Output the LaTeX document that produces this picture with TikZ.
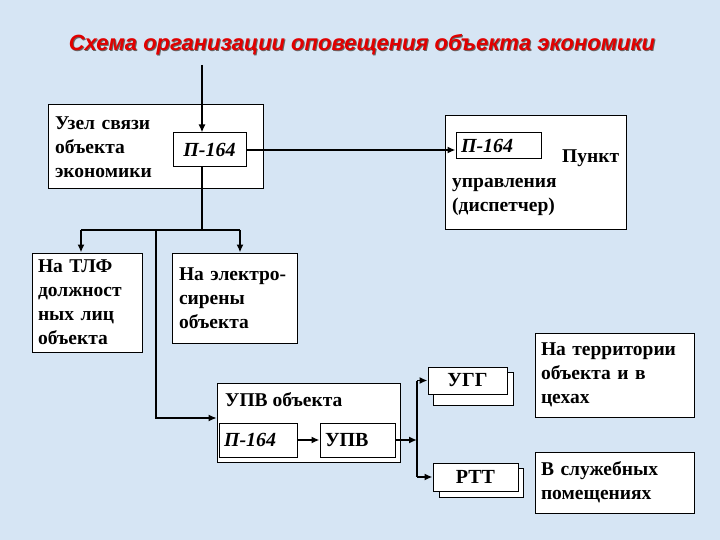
\documentclass[tikz,border=0pt]{standalone}
\usepackage{fontspec}
\setmainfont{Liberation Serif}
\newfontfamily\titlefont{Liberation Sans}
\usetikzlibrary{arrows.meta}
\definecolor{bgblue}{RGB}{214,229,244}
\definecolor{titlered}{RGB}{225,0,0}
\tikzset{
  box/.style={draw=black, fill=white, line width=1pt, inner ysep=0pt, inner xsep=7pt, align=left,
    font=\fontsize{19.5}{24}\selectfont\bfseries},
  pbox/.style={draw=black, fill=white, line width=1pt, inner sep=0pt,
    font=\fontsize{20}{22}\selectfont\bfseries\itshape},
  conn/.style={line width=1.6pt, draw=black},
  thin/.style={line width=1.1pt, draw=black},
  arr/.style={-{Latex[length=8pt,width=7pt]}},
  lbl/.style={inner sep=0pt, font=\fontsize{19.5}{24}\selectfont\bfseries, align=left},
}
\begin{document}
\begin{tikzpicture}[x=1pt,y=-1pt]
\fill[bgblue] (0,0) rectangle (720,540);
\useasboundingbox (0,0) rectangle (720,540);
% title
\node (titleshadow) at (363,46) {\titlefont\fontsize{22}{24}\selectfont\bfseries\itshape\color{black!60}Схема организации оповещения объекта экономики};
\node (title) at (362,45) {\titlefont\fontsize{22}{24}\selectfont\bfseries\itshape\color{titlered}Схема организации оповещения объекта экономики};
% boxes
\node[box, minimum width=215pt, minimum height=84pt, text width=201pt] (uzel) at (155.5,147) {Узел связи\\объекта\\экономики};
\node[pbox, minimum width=73pt, minimum height=34pt] (p1) at (209.5,150) {П-164};
\node[box, minimum width=181pt, minimum height=114pt] (punkt) at (535.5,173) {};
\node[pbox, minimum width=85pt, minimum height=26pt, align=left, text width=75pt, inner xsep=5pt] (p2) at (498.5,146) {П-164};
\node[lbl, anchor=west] (punkttxt) at (562,158) {Пункт};
\node[lbl, anchor=north west] (upravl) at (452,178) {управления\\(диспетчер)};
\node[box, minimum width=110pt, minimum height=99pt, text width=98pt, inner xsep=6pt] (tlf) at (87,302.5) {На ТЛФ\\должност\\ных лиц\\объекта};
\node[box, minimum width=125pt, minimum height=90pt, text width=111pt] (siren) at (234.5,298) {На электро-\\сирены\\объекта};
\node[box, minimum width=183pt, minimum height=79pt] (upvobj) at (308.5,422.5) {};
\node[lbl, anchor=west] (upvobjtxt) at (225,400) {УПВ объекта};
\node[pbox, minimum width=78pt, minimum height=34pt, align=left, text width=68pt, inner xsep=5pt] (p3) at (258,440) {П-164};
\node[box, minimum width=75pt, minimum height=34pt, text width=65pt, inner xsep=5pt, font=\fontsize{20}{22}\selectfont\bfseries] (upv) at (357.5,440) {УПВ};
% stacked boxes
\node[box, minimum width=80pt, minimum height=33pt] (uggback) at (473,388.5) {};
\node[box, minimum width=79pt, minimum height=27pt, align=center, inner xsep=0pt, font=\fontsize{20}{22}\selectfont\bfseries] (ugg) at (467.5,380.5) {УГГ};
\node[box, minimum width=84pt, minimum height=29pt] (rttback) at (481,482.5) {};
\node[box, minimum width=85pt, minimum height=28pt, align=center, inner xsep=0pt, font=\fontsize{20}{22}\selectfont\bfseries] (rtt) at (475.5,477) {РТТ};
\node[box, minimum width=159pt, minimum height=84pt, text width=147pt, inner xsep=6pt] (terr) at (614.5,375) {На территории\\объекта и в\\цехах};
\node[box, minimum width=159pt, minimum height=61pt, text width=147pt, inner xsep=6pt] (sluzh) at (614.5,482.5) {В служебных\\помещениях};
% connectors
\coordinate (top) at (202,65);
\draw[conn, arr] (top) -- (top |- p1.north);
\draw[conn, arr] (p1.east) -- (p1.east -| p2.west);
\coordinate (j1) at (202,230);
\coordinate (hl) at (81,230);
\coordinate (hr) at (240,230);
\coordinate (jl) at (156,230);
\draw[conn] (p1.south -| j1) -- (j1);
\draw[conn] (hl) -- (hr);
\draw[conn, arr] (hl) -- (hl |- tlf.north);
\draw[conn, arr] (hr) -- (hr |- siren.north);
\coordinate (bend) at (156,418);
\draw[thin, arr] (jl) -- (bend) -- (bend -| upvobj.west);
\draw[conn, arr] (p3.east) -- (upv.west);
\coordinate (j2) at (417,439);
\draw[conn, arr] (upv.east) -- (upv.east -| j2);
\draw[conn] (j2 |- ugg.west) -- (j2 |- rtt.west);
\draw[conn, arr] (j2 |- ugg.west) -- (ugg.west);
\draw[conn, arr] (j2 |- rtt.west) -- (rtt.west);
\end{tikzpicture}
\end{document}
